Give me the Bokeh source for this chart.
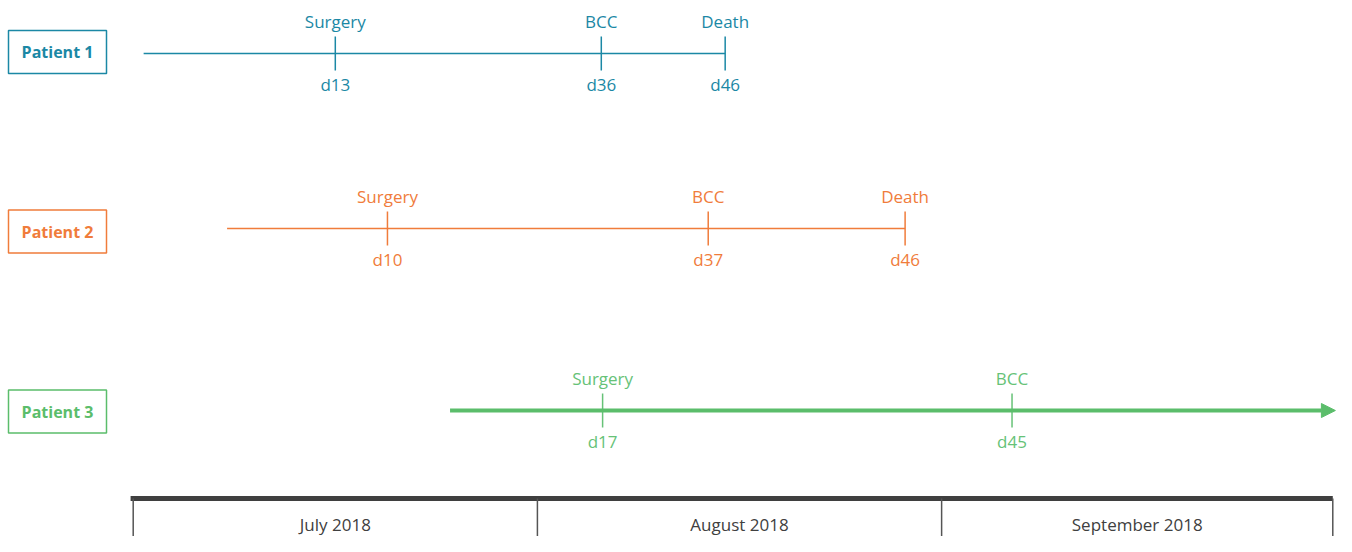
from bokeh.plotting import figure
from bokeh.models import Range1d, Arrow, NormalHead
from bokeh.core.properties import value
from bokeh.embed import file_html
from bokeh.resources import INLINE

# ---- data (x = calendar day counted from 1 July 2018) ----
patients = ["Patient 1", "Patient 2", "Patient 3"]
colors = ["#1b88a5", "#f07c3b", "#5bbd6b"]
text_colors = ["#1b88a5", "#f07c3b", "#66c277"]
line_start = [0.8, 7.2, 24.3]
line_end = [45.4, 59.2, 92.2]

p1_events = ["Surgery", "BCC", "Death"]
p1_days = [15.5, 35.9, 45.4]
p1_labels = ["d13", "d36", "d46"]

p2_events = ["Surgery", "BCC", "Death"]
p2_days = [19.5, 44.1, 59.2]
p2_labels = ["d10", "d37", "d46"]

p3_events = ["Surgery", "BCC"]
p3_days = [36.0, 67.4]
p3_labels = ["d17", "d45"]

months = ["July 2018", "August 2018", "September 2018"]
month_start = [0, 31, 62]
month_end = [31, 62, 92]

# ---- layout (screen-like y, px per day) ----
row_y = [53, 228, 410]
box_y = [51.5, 231, 411]
FONT = "Open Sans"
PX_PER_DAY = 13.039
X0 = -132.7 / PX_PER_DAY
W, H = 1336, 536

p = figure(width=W, height=H, output_backend="svg", toolbar_location=None,
           x_range=Range1d(X0, X0 + W / PX_PER_DAY), y_range=Range1d(H, 0),
           x_axis_location=None, y_axis_location=None, min_border=0)
p.grid.visible = False
p.outline_line_color = None
p.background_fill_color = "white"

events = [(p1_events, p1_days, p1_labels), (p2_events, p2_days, p2_labels),
          (p3_events, p3_days, p3_labels)]

box_x = X0 + 57 / PX_PER_DAY
for i, (ev, days, labs) in enumerate(events):
    y = row_y[i]
    c = colors[i]
    tc = text_colors[i]
    # patient box
    p.rect(x=[box_x], y=[box_y[i]], width=98, height=43, width_units="screen",
           height_units="screen", fill_color="white", line_color=c, line_width=1.5)
    p.text(x=[box_x], y=[box_y[i]], text=[patients[i]], text_color=c,
           text_font=value(FONT), text_font_style="bold", text_font_size="16px",
           text_align="center", text_baseline="middle")
    # timeline
    if i < 2:
        p.segment(x0=[line_start[i]], y0=[y], x1=[line_end[i]], y1=[y],
                  line_color=c, line_width=1.5)
    else:
        p.add_layout(Arrow(end=NormalHead(size=14, fill_color=c, line_color=c),
                           x_start=line_start[i], y_start=y, x_end=line_end[i], y_end=y,
                           line_color=c, line_width=4))
    # event ticks
    p.segment(x0=days, y0=[y - 17] * len(days), x1=days, y1=[y + 17] * len(days),
              line_color=tc if i == 2 else c, line_width=1.5)
    p.text(x=days, y=[y - 32] * len(days), text=ev, text_color=tc,
           text_font=value(FONT), text_font_size="17px",
           text_align="center", text_baseline="middle")
    p.text(x=days, y=[y + 31] * len(days), text=labs, text_color=tc,
           text_font=value(FONT), text_font_size="17px",
           text_align="center", text_baseline="middle")

# ---- month axis ----
bar_y = 498
p.segment(x0=[month_start[0] - 0.2], y0=[bar_y], x1=[month_end[-1]], y1=[bar_y],
          line_color="#3f3f3f", line_width=5)
bounds = month_start + [month_end[-1]]
p.segment(x0=bounds, y0=[bar_y] * len(bounds), x1=bounds, y1=[H] * len(bounds),
          line_color="#555555", line_width=1.5)
mid = [(a + b) / 2 for a, b in zip(month_start, month_end)]
p.text(x=mid, y=[524] * 3, text=months, text_color="#404040",
       text_font=value(FONT), text_font_size="17px",
       text_align="center", text_baseline="middle")

open("out.html", "w").write(file_html(p, INLINE))
